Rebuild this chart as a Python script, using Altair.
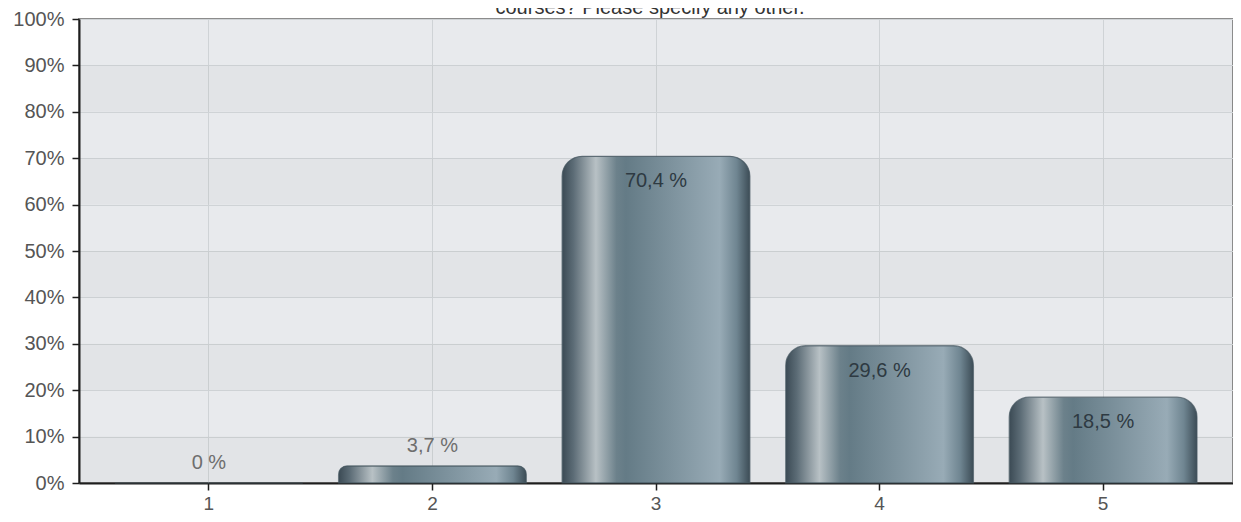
import altair as alt
import pandas as pd

categories = ["1", "2", "3", "4", "5"]
values = [0, 3.7, 70.4, 29.6, 18.5]
title_text = "courses? Please specify any other."
band_starts = [0, 20, 40, 60, 80]
band_ends = [10, 30, 50, 70, 90]

df = pd.DataFrame({"cat": categories, "v": values})
df["label"] = [("0 %" if v == 0 else f"{v:.1f}".replace(".", ",") + " %") for v in values]
bands = pd.DataFrame({"y0": band_starts, "y1": band_ends})
tdf = pd.DataFrame({"t": [title_text]})

W, H = 1154, 464
FONT = "Liberation Sans"

xscale = alt.Scale(domain=categories, paddingInner=0.16, paddingOuter=0.161)
yscale = alt.Scale(domain=[0, 100], nice=False, zero=True)

xaxis = alt.Axis(title=None, labelAngle=0, bandPosition=0.5, grid=True, gridColor="#cfd3d6",
                 domainColor="#1e1e1e", domainWidth=2, tickColor="#1e1e1e", tickSize=7, tickWidth=1.5,
                 labelFontSize=19, labelColor="#555555", labelFont=FONT, labelPadding=4,
                 labelBaseline="top")
yaxis = alt.Axis(title=None, values=list(range(0, 101, 10)), labelExpr="datum.value + '%'",
                 grid=True, gridColor="#cfd3d6", domainColor="#1e1e1e", domainWidth=2,
                 tickColor="#1e1e1e", tickSize=7, tickWidth=1.5,
                 labelFontSize=20, labelColor="#555555", labelFont=FONT, labelPadding=8)

grad = alt.LinearGradient(
    gradient="linear", x1=0, x2=1, y1=0, y2=0,
    stops=[
        alt.GradientStop(color="#3b4a54", offset=0.0),
        alt.GradientStop(color="#5c6c76", offset=0.06),
        alt.GradientStop(color="#b8c1c5", offset=0.18),
        alt.GradientStop(color="#6c818b", offset=0.29),
        alt.GradientStop(color="#647b86", offset=0.34),
        alt.GradientStop(color="#98abb6", offset=0.84),
        alt.GradientStop(color="#6f8591", offset=0.93),
        alt.GradientStop(color="#3c4c56", offset=1.0),
    ],
)

band_layer = alt.Chart(bands).mark_rect(fill="#000000", opacity=0.022).encode(
    y=alt.Y("y0:Q", scale=yscale, axis=yaxis),
    y2="y1:Q",
)

bars = alt.Chart(df).mark_bar(
    fill=grad, cornerRadiusTopLeft=20, cornerRadiusTopRight=20,
    stroke="#45555f", strokeWidth=1.2, strokeOpacity=0.7
).encode(
    x=alt.X("cat:N", scale=xscale, axis=xaxis, sort=categories),
    y=alt.Y("v:Q", scale=yscale, axis=yaxis),
)

inside = alt.Chart(df).transform_filter("datum.v >= 10").mark_text(
    font=FONT, fontSize=20, color="#2e3a42", dy=25, baseline="middle"
).encode(
    x=alt.X("cat:N", scale=xscale, sort=categories),
    y=alt.Y("v:Q", scale=yscale),
    text="label:N",
)

outside = alt.Chart(df).transform_filter("datum.v < 10").mark_text(
    font=FONT, fontSize=20, color="#6e6e6e", dy=-20, baseline="middle"
).encode(
    x=alt.X("cat:N", scale=xscale, sort=categories),
    y=alt.Y("v:Q", scale=yscale),
    text="label:N",
)

title_layer = alt.Chart(tdf).mark_text(
    font=FONT, fontSize=20, color="#333333", baseline="alphabetic", align="center"
).encode(
    x=alt.value(571), y=alt.value(-5), text="t:N"
)

chart = alt.layer(band_layer, bars, inside, outside, title_layer).properties(
    width=W, height=H,
    autosize=alt.AutoSizeParams(type="none"),
    padding={"left": 71, "top": 11, "right": 0, "bottom": 31},
    background="white",
).configure_view(
    fill="#e8eaed", stroke="#8c8c8c", strokeWidth=2
)

chart.save("out.html", embed_options={"renderer": "svg", "actions": False})
